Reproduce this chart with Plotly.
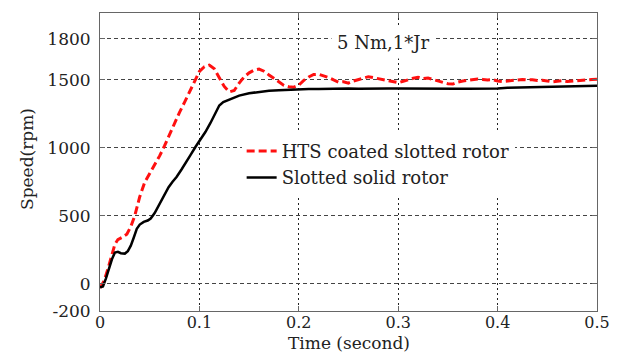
import plotly.graph_objects as go

# HTS coated slotted rotor (red dashed)
t_hts = [0.000, 0.004, 0.008, 0.012, 0.015, 0.018, 0.022, 0.027, 0.031, 0.035, 0.040, 0.045, 0.050, 0.055,
         0.060, 0.065, 0.070, 0.075, 0.080, 0.085, 0.090, 0.095, 0.100, 0.105, 0.110, 0.115, 0.120, 0.125,
         0.130, 0.135, 0.140, 0.145, 0.150, 0.155, 0.160, 0.165, 0.170, 0.175, 0.180, 0.185, 0.190, 0.195,
         0.200, 0.205, 0.210, 0.215, 0.220, 0.225, 0.230, 0.235, 0.240, 0.245, 0.250, 0.255, 0.260, 0.265,
         0.270, 0.275, 0.280, 0.285, 0.290, 0.295, 0.300, 0.305, 0.310, 0.315, 0.320, 0.325, 0.330, 0.335,
         0.340, 0.345, 0.350, 0.355, 0.360, 0.365, 0.370, 0.375, 0.380, 0.385, 0.390, 0.395, 0.400, 0.405,
         0.410, 0.415, 0.420, 0.425, 0.430, 0.435, 0.440, 0.445, 0.450, 0.455, 0.460, 0.465, 0.470, 0.475,
         0.480, 0.485, 0.490, 0.495, 0.500]
v_hts = [-30, 20, 110, 210, 290, 325, 340, 365, 420, 500, 640, 746, 810, 869,
         940, 1015, 1100, 1186, 1260, 1333, 1410, 1490, 1560, 1595, 1607, 1580, 1515, 1450,
         1410, 1420, 1475, 1520, 1550, 1570, 1578, 1562, 1535, 1510, 1480, 1458, 1448, 1445,
         1460, 1495, 1520, 1538, 1540, 1530, 1516, 1498, 1482, 1485, 1475, 1490, 1500, 1512,
         1522, 1515, 1508, 1504, 1495, 1485, 1478, 1488, 1500, 1510, 1518, 1508, 1512, 1502,
         1490, 1478, 1470, 1468, 1482, 1490, 1496, 1500, 1505, 1502, 1498, 1500, 1490, 1486,
         1490, 1494, 1500, 1502, 1498, 1500, 1494, 1496, 1490, 1484, 1488, 1492, 1486, 1490,
         1495, 1496, 1500, 1502, 1504]

# Slotted solid rotor (black solid)
t_solid = [0.000, 0.003, 0.006, 0.009, 0.012, 0.015, 0.018, 0.021, 0.025, 0.028, 0.031, 0.034, 0.037,
           0.040, 0.044, 0.048, 0.051, 0.055, 0.059, 0.064, 0.069, 0.073, 0.077, 0.082, 0.087, 0.091,
           0.096, 0.101, 0.106, 0.111, 0.116, 0.120, 0.124, 0.130, 0.135, 0.140, 0.150, 0.160, 0.170,
           0.180, 0.190, 0.200, 0.210, 0.220, 0.230, 0.240, 0.250, 0.260, 0.270, 0.280, 0.290, 0.300,
           0.310, 0.320, 0.330, 0.340, 0.350, 0.360, 0.370, 0.380, 0.390, 0.400, 0.410, 0.420, 0.430,
           0.440, 0.450, 0.460, 0.470, 0.480, 0.490, 0.500]
v_solid = [-25, -20, 40, 120, 180, 230, 235, 225, 222, 240, 280, 340, 404,
           435, 455, 465, 480, 520, 575, 640, 710, 750, 785, 840, 893, 945,
           1005, 1060, 1115, 1180, 1248, 1310, 1335, 1355, 1372, 1383, 1400, 1412, 1419,
           1423, 1427, 1430, 1432, 1432, 1434, 1434, 1436, 1434, 1436, 1434, 1436, 1435,
           1434, 1436, 1434, 1436, 1434, 1433, 1434, 1433, 1434, 1436, 1440, 1442, 1441,
           1443, 1444, 1446, 1447, 1450, 1452, 1455]

x_ticks = [0, 0.1, 0.2, 0.3, 0.4, 0.5]
x_labels = ["0", "0.1", "0.2", "0.3", "0.4", "0.5"]
y_ticks = [-200, 0, 500, 1000, 1500, 1800]
y_labels = ["-200", "0", "500", "1000", "1500", "1800"]

FONT = "DejaVu Serif"

fig = go.Figure()
fig.add_trace(go.Scatter(x=t_hts, y=v_hts, mode="lines", name="HTS coated slotted rotor",
                         line=dict(color="#ff1010", width=3, dash="8px,4px")))
fig.add_trace(go.Scatter(x=t_solid, y=v_solid, mode="lines", name="Slotted solid rotor",
                         line=dict(color="black", width=2.5)))

fig.add_annotation(x=0.2844, y=1773, xref="x", yref="y", text="5 Nm,1*Jr", showarrow=False,
                   font=dict(family=FONT, size=18, color="#222"), bgcolor="white",
                   xanchor="center", yanchor="middle", borderpad=5)
fig.add_annotation(x=0.5, y=0, xref="paper", yref="paper", text="Time (second)", showarrow=False,
                   font=dict(family=FONT, size=17, color="#222"), xanchor="center", yanchor="middle",
                   yshift=-32, borderpad=0)
fig.add_annotation(x=0, y=0.5, xref="paper", yref="paper", text="Speed(rpm)", showarrow=False,
                   font=dict(family=FONT, size=17, color="#222"), textangle=-90,
                   xanchor="center", yanchor="middle", xshift=-73, yshift=3)

fig.update_layout(
    width=622, height=353,
    margin=dict(l=100, r=25, t=13, b=42),
    paper_bgcolor="white", plot_bgcolor="white",
    font=dict(family=FONT, size=17, color="#222"),
    legend=dict(x=0.285, y=0.598, xanchor="left", yanchor="top", bgcolor="white",
                itemwidth=30, font=dict(family=FONT, size=18, color="#222"), tracegroupgap=0),
    showlegend=True,
)
fig.update_xaxes(range=[0, 0.5], tickvals=x_ticks, ticktext=x_labels, automargin=False,
                 showgrid=True, gridcolor="#222", griddash="2px,3px", gridwidth=1,
                 showline=True, linecolor="#666", linewidth=1, mirror="ticks",
                 ticks="inside", ticklen=5, tickcolor="#666", zeroline=False,
                 ticklabelstandoff=-3, tickfont=dict(family=FONT, size=16, color="#222"))
fig.update_yaxes(range=[-200, 1990], tickvals=y_ticks, ticktext=y_labels, automargin=False,
                 showgrid=True, gridcolor="#444", griddash="4px,3px", gridwidth=1,
                 showline=True, linecolor="#666", linewidth=1, mirror="ticks",
                 ticks="inside", ticklen=5, tickcolor="#666", zeroline=False,
                 ticklabelstandoff=5)

fig.write_html("out.html")
